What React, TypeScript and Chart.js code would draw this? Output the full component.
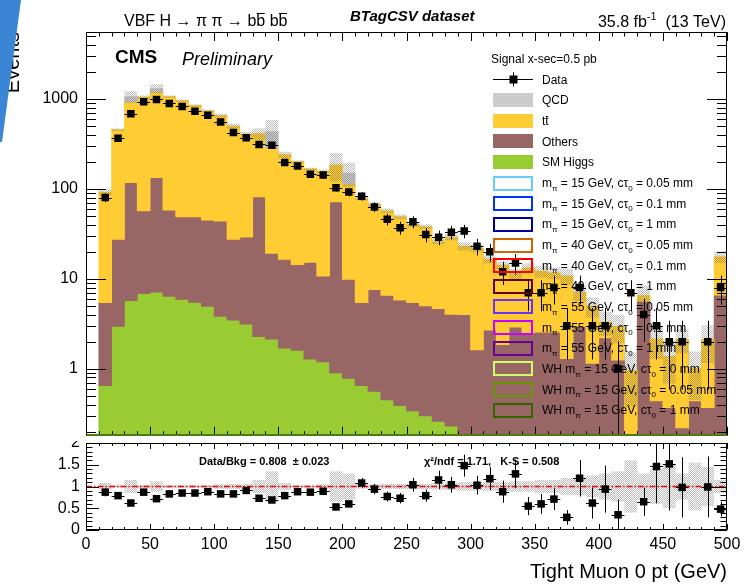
import React, { useEffect, useRef } from "react";
import { Chart, registerables } from "chart.js";

Chart.register(...registerables);

const FONT = "'Liberation Sans', Arial, Helvetica, sans-serif";

// ---- categories: lower edges of the 10 GeV bins ----
const binLow = [0, 10, 20, 30, 40, 50, 60, 70, 80, 90, 100, 110, 120, 130, 140, 150, 160, 170, 180, 190, 200, 210, 220, 230, 240, 250, 260, 270, 280, 290, 300, 310, 320, 330, 340, 350, 360, 370, 380, 390, 400, 410, 420, 430, 440, 450, 460, 470, 480, 490];
const BIN_WIDTH = 10;

// ---- stacked backgrounds (events per bin) ----
const higgs = [0, 0.65, 2.96, 5.74, 6.86, 7.1, 6.4, 5.9, 5.46, 4.93, 3.82, 3.48, 3.14, 2.27, 2.14, 1.7, 1.6, 1.28, 1.19, 0.9, 0.78, 0.65, 0.56, 0.45, 0.39, 0.34, 0.3, 0.26, 0.23, 0.15, 0.12, 0.19, 0.1, 0, 0, 0, 0, 0, 0, 0, 0, 0, 0, 0, 0, 0, 0, 0, 0, 0];
const others = [0, 4.8, 24.5, 112, 50, 126, 51.6, 43, 43.5, 40, 40, 24, 26, 79, 17, 14.8, 12.8, 14, 9.5, 71, 9.1, 4.8, 7.0, 6.1, 5.4, 5.1, 4.7, 4.4, 3.8, 3.85, 1.5, 2.5, 1.76, 2.9, 2.5, 2.55, 2.55, 1.3, 2.95, 1.15, 2.2, 1.25, 0.1, 5.6, 0.44, 0.37, 0.22, 0.44, 0.37, 6.6];
const ttbar = [0, 86.5, 427, 813, 993, 1067, 1002, 911, 791, 690, 606, 472, 376, 329, 263, 223, 186, 151, 146, 113, 104, 72.5, 59.4, 50.4, 43.2, 34.6, 33, 21.3, 25, 19, 20.3, 13.8, 12.3, 8.5, 10.7, 9.6, 9.1, 9.5, 4.1, 3.8, 1.1, 1.7, 0.85, 0.9, 1.7, 1.0, 1.9, 0.56, 1.73, 10.9];
const qcd = [0, 0, 0, 130, 0, 100, 0, 0, 0, 0, 0, 0, 0, 0, 150, 0, 0, 0, 0, 0, 36, 0, 0, 0, 0, 0, 0, 0, 0, 0, 0, 0, 0, 0, 0, 0, 0, 0, 0, 0, 0, 0, 0, 0, 0, 0, 0, 0, 0, 0];
// relative uncertainty of the total background (hatched band)
const bkgRelUnc = [0, 0.08, 0.03, 0.15, 0.04, 0.12, 0.03, 0.03, 0.03, 0.03, 0.05, 0.06, 0.06, 0.15, 0.35, 0.08, 0.03, 0.03, 0.05, 0.35, 0.3, 0.05, 0.05, 0.06, 0.06, 0.06, 0.06, 0.07, 0.08, 0.1, 0.1, 0.1, 0.1, 0.12, 0.12, 0.15, 0.15, 0.2, 0.2, 0.25, 0.3, 0.35, 0.6, 0.3, 0.4, 0.5, 0.3, 0.55, 0.45, 0.15];

// ---- data ----
const dataCounts = [null, 80, 366, 686, 931, 987, 892, 826, 728, 657, 554, 423, 369, 312, 306, 197, 180, 145, 143, 103, 92, 83, 63, 46, 37, 43, 31, 29, 33, 34, 23, 20, 12, 15, 7, 7, 8, 3, 8, 3, 3, 1, 7, 4, 3, 2, 2, null, 2, 8];
const ratio = [null, 0.87, 0.79, 0.62, 0.87, 0.72, 0.83, 0.85, 0.85, 0.88, 0.83, 0.83, 0.91, 0.73, 0.69, 0.79, 0.88, 0.87, 0.89, 0.53, 0.6, 1.08, 0.94, 0.77, 0.73, 1.04, 0.79, 1.15, 1.04, 1.48, 1.03, 1.18, 0.88, 1.29, 0.55, 0.6, 0.71, 0.29, 1.19, 0.62, 0.94, 0.35, null, 0.65, 1.46, 1.52, 0.98, null, 0.99, 0.48];

// ---- axis ticks ----
const yDecades = [1, 10, 100, 1000];
const ratioTickStep = 0.5;
const xTickStep = 50;

// ---- legend ----
const bkgLegend = ["QCD", "tt", "Others", "SM Higgs"];
const bkgColors = ["#cccccc", "#ffcc33", "#996666", "#99cc33"];
const signalPrefix = ["", "", "", "", "", "", "", "", "", "WH ", "WH ", "WH "];
const signalMass = ["15", "15", "15", "40", "40", "40", "55", "55", "55", "15", "15", "15"];
const signalCtau = ["0.05", "0.1", "1", "0.05", "0.1", "1", "0.05", "0.1", "1", "0", "0.05", "1"];
const signalColors = ["#66ccff", "#0033ff", "#000099", "#cc6600", "#ff0000", "#660000", "#6633ff", "#cc00ff", "#660099", "#ccff66", "#669900", "#336600"];

type Seg = { t: string; sub?: boolean; sup?: boolean; over?: boolean };

function drawSegs(ctx: CanvasRenderingContext2D, segs: Seg[], x: number, y: number, size: number, style: string, align = "left", color = "#000") {
  const fontFor = (s: Seg) => `${style} ${s.sub || s.sup ? Math.round(size * 0.7) : size}px ${FONT}`;
  let total = 0;
  const widths = segs.map((s) => {
    ctx.font = fontFor(s);
    const w = ctx.measureText(s.t).width;
    total += w;
    return w;
  });
  let cx = align === "right" ? x - total : align === "center" ? x - total / 2 : x;
  ctx.fillStyle = color;
  ctx.strokeStyle = color;
  ctx.textAlign = "left";
  ctx.textBaseline = "alphabetic";
  segs.forEach((s, i) => {
    ctx.font = fontFor(s);
    const dy = s.sub ? size * 0.3 : s.sup ? -size * 0.42 : 0;
    ctx.fillText(s.t, cx, y + dy);
    if (s.over) {
      ctx.lineWidth = 1;
      ctx.beginPath();
      const oy = Math.round(y - size * 0.8) + 0.5;
      ctx.moveTo(cx + 0.5, oy);
      ctx.lineTo(cx + widths[i] - 0.5, oy);
      ctx.stroke();
    }
    cx += widths[i];
  });
}

function makeHatch(ctx: CanvasRenderingContext2D) {
  const c = document.createElement("canvas");
  c.width = 2;
  c.height = 2;
  const g = c.getContext("2d")!;
  g.fillStyle = "rgba(90,90,90,0.42)";
  g.fillRect(0, 0, 1, 1);
  g.fillRect(1, 1, 1, 1);
  return ctx.createPattern(c, "repeat")!;
}

function drawFrameTicks(chart: any, xLen: (k: number) => number, yTicks: { v: number; len: number }[], bottomColor?: string) {
  const ctx: CanvasRenderingContext2D = chart.ctx;
  const { left, right, top, bottom } = chart.chartArea;
  const xs = chart.scales.x;
  const ys = chart.scales.y;
  ctx.save();
  ctx.strokeStyle = "#000";
  ctx.lineWidth = 1;
  ctx.beginPath();
  for (let k = 0; k <= 50; k++) {
    const px = Math.round(xs.getPixelForValue(k * 10)) + 0.5;
    const len = xLen(k);
    ctx.moveTo(px, bottom);
    ctx.lineTo(px, bottom - len);
    ctx.moveTo(px, top);
    ctx.lineTo(px, top + len);
  }
  yTicks.forEach(({ v, len }) => {
    const py = Math.round(ys.getPixelForValue(v)) + 0.5;
    ctx.moveTo(left, py);
    ctx.lineTo(left + len, py);
    ctx.moveTo(right, py);
    ctx.lineTo(right - len, py);
  });
  ctx.stroke();
  const L = Math.round(left) + 0.5;
  const R = Math.round(right) - 0.5;
  const T = Math.round(top) + 0.5;
  const B = Math.round(bottom) - 0.5;
  ctx.beginPath();
  ctx.moveTo(L, B);
  ctx.lineTo(L, T);
  ctx.lineTo(R, T);
  ctx.lineTo(R, B);
  if (!bottomColor) ctx.lineTo(L, B);
  ctx.stroke();
  if (bottomColor) {
    ctx.strokeStyle = bottomColor;
    ctx.lineWidth = 2;
    ctx.beginPath();
    ctx.moveTo(L, Math.round(bottom) - 1);
    ctx.lineTo(R + 0.5, Math.round(bottom) - 1);
    ctx.stroke();
  }
  ctx.restore();
}

export default function App() {
  const mainRef = useRef<HTMLCanvasElement>(null);
  const ratioRef = useRef<HTMLCanvasElement>(null);

  useEffect(() => {
    Chart.defaults.font.family = FONT;
    Chart.defaults.color = "#000";
    const mainCtx = mainRef.current!.getContext("2d")!;
    const ratioCtx = ratioRef.current!.getContext("2d")!;
    const hatchMain = makeHatch(mainCtx);
    const hatchRatio = makeHatch(ratioCtx);

    const Y_MIN = 0.18;
    const FLOOR = 0.001; // log axis cannot take 0 as a bar start; use a value below the axis minimum
    const centers = binLow.map((b) => b + BIN_WIDTH / 2);
    const layers = [higgs, others, ttbar, qcd];
    const cumLow: number[][] = [];
    const running = binLow.map(() => 0);
    layers.forEach((arr) => {
      cumLow.push(running.slice());
      arr.forEach((v, i) => (running[i] += v));
    });
    const totals = running.slice();

    const layerData = (li: number) =>
      centers
        .map((x, i) => {
          const v = layers[li][i];
          if (!(v > 0)) return null;
          const lo = cumLow[li][i];
          return { x, y: [lo > FLOOR ? lo : FLOOR, lo + v] };
        })
        .filter(Boolean);

    const barCommon = {
      type: "bar" as const,
      grouped: false,
      barPercentage: 1,
      categoryPercentage: 1,
      borderWidth: 0,
      inflateAmount: 0.4,
    };

    const mainYTicks: { v: number; len: number }[] = [];
    [0.1, 1, 10, 100, 1000].forEach((d) => {
      for (let m = 1; m <= 9; m++) {
        const v = m * d;
        if (v >= Y_MIN && v <= 5550) mainYTicks.push({ v, len: m === 1 ? 20 : 10 });
      }
    });
    const ratioYTicks: { v: number; len: number }[] = [];
    for (let k = 0; k <= 20; k++) ratioYTicks.push({ v: k / 10, len: k % 5 === 0 ? 13 : 6.5 });

    const mainPlugin = {
      id: "mainDecor",
      afterDatasetsDraw(chart: any) {
        const ctx: CanvasRenderingContext2D = chart.ctx;
        const { left, right, top, bottom } = chart.chartArea;
        const xs = chart.scales.x;
        const ys = chart.scales.y;
        ctx.save();
        ctx.beginPath();
        ctx.rect(left, top, right - left, bottom - top);
        ctx.clip();
        ctx.strokeStyle = "#000";
        ctx.lineWidth = 1;
        dataCounts.forEach((n, i) => {
          if (n == null || n <= 0) return;
          const cx = Math.round(xs.getPixelForValue(binLow[i] + BIN_WIDTH / 2)) + 0.5;
          const py = Math.round(ys.getPixelForValue(n)) + 0.5;
          const e = Math.sqrt(n);
          const yHi = ys.getPixelForValue(n + e);
          const yLo = n - e > ys.min ? ys.getPixelForValue(n - e) : bottom;
          ctx.beginPath();
          ctx.moveTo(xs.getPixelForValue(binLow[i]), py);
          ctx.lineTo(xs.getPixelForValue(binLow[i] + BIN_WIDTH), py);
          ctx.moveTo(cx, yHi);
          ctx.lineTo(cx, yLo);
          ctx.stroke();
        });
        ctx.restore();
      },
      afterDraw(chart: any) {
        const ctx: CanvasRenderingContext2D = chart.ctx;
        drawFrameTicks(chart, (k) => (k % 5 === 0 ? 9 : 4.5), mainYTicks, "#4f7a12");

        // titles
        drawSegs(ctx, [{ t: "VBF H \u2192 \u03c0 \u03c0 \u2192 b" }, { t: "b", over: true }, { t: " b" }, { t: "b", over: true }], 124, 26, 16, "normal");
        drawSegs(ctx, [{ t: "BTagCSV dataset" }], 350, 21, 15, "italic bold");
        drawSegs(ctx, [{ t: "35.8 fb" }, { t: "-1", sup: true }, { t: "  (13 TeV)" }], 726, 27, 16, "normal", "right");
        drawSegs(ctx, [{ t: "CMS" }], 115, 63, 19, "bold");
        drawSegs(ctx, [{ t: "Preliminary" }], 182, 65, 18, "italic");

        // legend
        const lx0 = 493, lx1 = 533, tx = 542, y0 = 79.3, dy = 20.65, fs = 12;
        drawSegs(ctx, [{ t: "Signal x-sec=0.5 pb" }], 491, 62.5, fs, "normal");
        ctx.save();
        ctx.strokeStyle = "#000";
        ctx.lineWidth = 1;
        ctx.beginPath();
        ctx.moveTo(lx0, Math.round(y0) + 0.5);
        ctx.lineTo(lx1, Math.round(y0) + 0.5);
        ctx.moveTo(513.5, y0 - 7);
        ctx.lineTo(513.5, y0 + 7);
        ctx.stroke();
        ctx.fillStyle = "#000";
        ctx.fillRect(509.5, Math.round(y0) - 3.5, 8, 8);
        ctx.restore();
        drawSegs(ctx, [{ t: "Data" }], tx, y0 + 4.5, fs, "normal");
        bkgLegend.forEach((name, j) => {
          const cy = y0 + dy * (j + 1);
          ctx.fillStyle = bkgColors[j];
          ctx.fillRect(lx0, Math.round(cy - 7), lx1 - lx0, 14);
          const segs: Seg[] = name === "tt" ? [{ t: "t" }, { t: "t", over: true }] : [{ t: name }];
          drawSegs(ctx, segs, tx, cy + 4.5, fs, "normal");
        });
        signalColors.forEach((col, j) => {
          const cy = y0 + dy * (j + 5);
          ctx.save();
          ctx.strokeStyle = col;
          ctx.lineWidth = 2;
          ctx.strokeRect(lx0 + 1, Math.round(cy - 7) + 1, lx1 - lx0 - 2, 13);
          ctx.restore();
          drawSegs(
            ctx,
            [
              { t: signalPrefix[j] + "m" },
              { t: "\u03c0", sub: true },
              { t: ` = ${signalMass[j]} GeV, c\u03c4` },
              { t: "0", sub: true },
              { t: ` = ${signalCtau[j]} mm` },
            ],
            tx,
            cy + 4.5,
            fs,
            "normal"
          );
        });

        // blue overlay at the top-left corner
        ctx.save();
        ctx.fillStyle = "#3b86d4";
        ctx.beginPath();
        ctx.moveTo(0, 0);
        ctx.lineTo(21, 0);
        ctx.lineTo(2, 142);
        ctx.lineTo(0, 142);
        ctx.closePath();
        ctx.fill();
        ctx.restore();
      },
    };

    const main = new Chart(mainCtx, {
      type: "bar",
      data: {
        datasets: [
          {
            type: "line",
            label: "Data",
            data: centers.map((x, i) => (dataCounts[i] != null ? { x, y: dataCounts[i] } : null)).filter(Boolean) as any,
            showLine: false,
            pointStyle: "rect",
            pointRadius: 5.3,
            pointBackgroundColor: "#000",
            pointBorderWidth: 0,
            order: 0,
          },
          {
            ...barCommon,
            label: "Bkg. uncertainty",
            data: centers.map((x, i) => (totals[i] > 0 ? { x, y: [totals[i] * (1 - bkgRelUnc[i]), totals[i] * (1 + bkgRelUnc[i])] } : null)).filter(Boolean) as any,
            backgroundColor: hatchMain,
            inflateAmount: 0,
            order: 1,
          },
          { ...barCommon, label: "QCD", data: layerData(3) as any, backgroundColor: bkgColors[0], order: 2 },
          { ...barCommon, label: "ttbar", data: layerData(2) as any, backgroundColor: bkgColors[1], order: 3 },
          { ...barCommon, label: "Others", data: layerData(1) as any, backgroundColor: bkgColors[2], order: 4 },
          { ...barCommon, label: "SM Higgs", data: layerData(0) as any, backgroundColor: bkgColors[3], order: 5 },
        ] as any,
      },
      options: {
        animation: false,
        responsive: false,
        events: [],
        layout: { padding: { left: 0, right: 19, top: 32, bottom: 3 } },
        plugins: { legend: { display: false }, tooltip: { enabled: false } },
        scales: {
          x: { type: "linear", min: 0, max: 500, offset: false, display: false, grid: { offset: false } },
          y: {
            type: "logarithmic",
            min: Y_MIN,
            max: 5550,
            afterBuildTicks: (s: any) => {
              s.ticks = yDecades.map((v) => ({ value: v }));
            },
            afterFit: (s: any) => {
              s.width = 86;
              s.paddingTop = 0;
              s.paddingBottom = 0;
            },
            ticks: { callback: (v: any) => String(v), font: { size: 16 }, color: "#000", padding: 8, autoSkip: false },
            grid: { display: false, drawTicks: false },
            border: { display: false },
            title: { display: true, text: "Events", align: "end", font: { size: 20 }, color: "#000", padding: { top: 1, bottom: 0 } },
          },
        },
      } as any,
      plugins: [mainPlugin],
    });

    const ratioPlugin = {
      id: "ratioDecor",
      afterDatasetsDraw(chart: any) {
        const ctx: CanvasRenderingContext2D = chart.ctx;
        const { left, right, top, bottom } = chart.chartArea;
        const xs = chart.scales.x;
        const ys = chart.scales.y;
        ctx.save();
        ctx.beginPath();
        ctx.rect(left, top, right - left, bottom - top);
        ctx.clip();
        ctx.strokeStyle = "#000";
        ctx.lineWidth = 1;
        ratio.forEach((r, i) => {
          const n = dataCounts[i];
          if (r == null || n == null || n <= 0) return;
          const e = r / Math.sqrt(n);
          const cx = Math.round(xs.getPixelForValue(binLow[i] + BIN_WIDTH / 2)) + 0.5;
          const py = Math.round(ys.getPixelForValue(r)) + 0.5;
          ctx.beginPath();
          ctx.moveTo(xs.getPixelForValue(binLow[i]), py);
          ctx.lineTo(xs.getPixelForValue(binLow[i] + BIN_WIDTH), py);
          ctx.moveTo(cx, ys.getPixelForValue(r + e));
          ctx.lineTo(cx, ys.getPixelForValue(Math.max(0, r - e)));
          ctx.stroke();
        });
        ctx.restore();
      },
      afterDraw(chart: any) {
        const ctx: CanvasRenderingContext2D = chart.ctx;
        drawFrameTicks(chart, (k) => (k % 5 === 0 ? 6 : 3), ratioYTicks);
        drawSegs(ctx, [{ t: "Data/Bkg = 0.808  \u00b1 0.023" }], 199, 40, 11, "bold");
        drawSegs(ctx, [{ t: "\u03c7\u00b2/ndf = 1.71,   K-S = 0.508" }], 424, 40, 11, "bold");
      },
    };

    const rat = new Chart(ratioCtx, {
      type: "bar",
      data: {
        datasets: [
          {
            type: "line",
            label: "Data/Bkg",
            data: centers.map((x, i) => (ratio[i] != null ? { x, y: ratio[i] } : null)).filter(Boolean) as any,
            showLine: false,
            pointStyle: "rect",
            pointRadius: 5.3,
            pointBackgroundColor: "#000",
            pointBorderWidth: 0,
            order: 0,
          },
          {
            type: "line",
            label: "unity",
            data: [
              { x: 0, y: 1 },
              { x: 500, y: 1 },
            ],
            borderColor: "#ff0000",
            borderWidth: 1.5,
            borderDash: [6, 2, 1.5, 2],
            pointRadius: 0,
            order: 1,
          },
          {
            ...barCommon,
            label: "Bkg. uncertainty",
            data: centers.map((x, i) => (totals[i] > 0 ? { x, y: [1 - bkgRelUnc[i], 1 + bkgRelUnc[i]] } : null)).filter(Boolean) as any,
            backgroundColor: hatchRatio,
            inflateAmount: 0,
            order: 2,
          },
        ] as any,
      },
      options: {
        animation: false,
        responsive: false,
        events: [],
        layout: { padding: { left: 0, right: 19, top: 18, bottom: 0 } },
        plugins: { legend: { display: false }, tooltip: { enabled: false } },
        scales: {
          x: {
            type: "linear",
            min: 0,
            max: 500,
            offset: false,
            grid: { display: false, drawTicks: false, offset: false },
            border: { display: false },
            ticks: { stepSize: xTickStep, callback: (v: any) => String(v), font: { size: 16 }, color: "#000", padding: 5, maxRotation: 0, autoSkip: false },
            title: { display: true, text: "Tight Muon 0 pt (GeV)", align: "end", font: { size: 20 }, color: "#000", padding: { top: 0, bottom: 0 } },
            afterFit: (s: any) => {
              s.height = 54;
              s.paddingLeft = 0;
              s.paddingRight = 0;
            },
          },
          y: {
            type: "linear",
            min: 0,
            max: 2,
            ticks: { stepSize: ratioTickStep, callback: (v: any) => String(v), font: { size: 16 }, color: "#000", padding: 6, autoSkip: false },
            grid: { display: false, drawTicks: false },
            border: { display: false },
            afterFit: (s: any) => {
              s.width = 86;
              s.paddingTop = 0;
              s.paddingBottom = 0;
            },
          },
        },
      } as any,
      plugins: [ratioPlugin],
    });

    return () => {
      main.destroy();
      rat.destroy();
    };
  }, []);

  return (
    <div style={{ position: "absolute", left: 0, top: 0, width: 746, height: 584, background: "#fff" }}>
      <canvas ref={ratioRef} width={746} height={159} style={{ position: "absolute", left: 0, top: 425, zIndex: 1 }} />
      <canvas ref={mainRef} width={746} height={441} style={{ position: "absolute", left: 0, top: 0, zIndex: 2, background: "#fff" }} />
    </div>
  );
}
